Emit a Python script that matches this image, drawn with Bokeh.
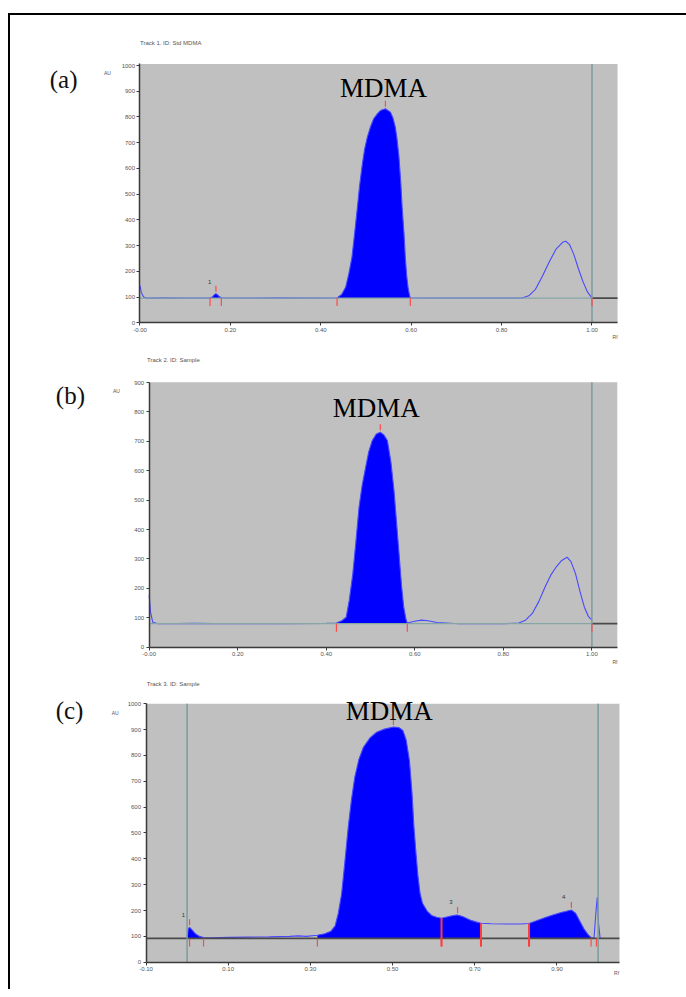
import numpy as np
from bokeh.plotting import figure
from bokeh.models import (Range1d, FixedTicker, Label, CustomJSTickFormatter, LinearAxis,
                          BoxAnnotation, Spacer)
from bokeh.layouts import column, row
from bokeh.embed import file_html
from bokeh.resources import INLINE

# ---------------- Panel (a): Track 1, Std MDMA ----------------
rf_a = [0.000, 0.003, 0.008, 0.015, 0.050, 0.100, 0.150, 0.155, 0.160, 0.165,
        0.168, 0.172, 0.176, 0.180, 0.250, 0.300, 0.400, 0.436,
        0.446, 0.455, 0.462, 0.469, 0.475, 0.481, 0.486, 0.492, 0.497, 0.503,
        0.510, 0.517, 0.525, 0.532, 0.543, 0.554, 0.560, 0.565, 0.569, 0.573,
        0.577, 0.580, 0.584, 0.587, 0.590, 0.593, 0.596, 0.598,
        0.650, 0.700, 0.800, 0.845, 0.860, 0.875, 0.890, 0.905, 0.920, 0.935,
        0.942, 0.950, 0.960, 0.970, 0.980, 0.990, 1.000]
au_a = [145, 118, 100, 96, 97, 96, 96, 97, 100, 110,
        113, 108, 101, 97, 96, 97, 96, 97,
        110, 138, 190, 255, 350, 449, 535, 618, 675, 722,
        762, 793, 812, 825, 832, 819, 795, 760, 710, 644,
        545, 449, 350, 255, 185, 138, 110, 97,
        96, 96, 96, 96, 105, 130, 180, 235, 285, 313,
        317, 305, 265, 210, 160, 120, 96]
base_a = 96
peaks_a = [(0.155, 0.180), (0.436, 0.598)]
apex_a = [0.168, 0.543]
bounds_a = [0.155, 0.180, 0.436, 0.598, 1.000]
drops_a = []
peak_names_a = [(0.154, 158, "1")]
xticks_a = [0.0, 0.2, 0.4, 0.6, 0.8, 1.0]
xlabels_a = ["-0.00", "0.20", "0.40", "0.60", "0.80", "1.00"]
yticks_a = [0, 100, 200, 300, 400, 500, 600, 700, 800, 900, 1000]

# ---------------- Panel (b): Track 2, Sample ----------------
rf_b = [0.000, 0.003, 0.008, 0.020, 0.100, 0.200, 0.300, 0.400, 0.423, 0.435,
        0.445, 0.452, 0.460, 0.467, 0.474, 0.481, 0.489, 0.496, 0.504, 0.513,
        0.522, 0.530, 0.538, 0.546, 0.553, 0.559, 0.565, 0.570, 0.575, 0.580,
        0.583, 0.600, 0.615, 0.630, 0.650, 0.700, 0.800, 0.835, 0.850, 0.865,
        0.880, 0.894, 0.907, 0.919, 0.932, 0.944, 0.953, 0.963, 0.973, 0.983,
        0.992, 1.000]
au_b = [176, 120, 85, 80, 81, 80, 80, 81, 82, 90,
        102, 160, 250, 360, 476, 550, 612, 665, 703, 725,
        731, 722, 703, 630, 533, 420, 306, 210, 136, 95,
        82, 88, 92, 90, 84, 80, 80, 82, 92, 114,
        155, 204, 245, 272, 295, 306, 290, 250, 190, 136,
        105, 92]
base_b = 80
peaks_b = [(0.423, 0.583)]
apex_b = [0.522]
bounds_b = [0.423, 0.583, 1.000]
drops_b = []
peak_names_b = []
xticks_b = [0.0, 0.2, 0.4, 0.6, 0.8, 1.0]
xlabels_b = ["-0.00", "0.20", "0.40", "0.60", "0.80", "1.00"]
yticks_b = [0, 100, 200, 300, 400, 500, 600, 700, 800, 900]

# ---------------- Panel (c): Track 3, Sample ----------------
rf_c = [0.000, 0.003, 0.006, 0.012, 0.020, 0.030, 0.040, 0.060, 0.100, 0.150,
        0.200, 0.250, 0.270, 0.290, 0.317, 0.335, 0.350, 0.360, 0.368, 0.376,
        0.384, 0.392, 0.400, 0.408, 0.418, 0.429, 0.445, 0.461, 0.480, 0.502,
        0.515, 0.525, 0.533, 0.541, 0.547, 0.552, 0.557, 0.562, 0.567, 0.573,
        0.584, 0.595, 0.607, 0.619, 0.632, 0.645, 0.658, 0.670, 0.690, 0.705,
        0.715, 0.740, 0.780, 0.810, 0.832, 0.850, 0.870, 0.890, 0.910, 0.925,
        0.935, 0.945, 0.955, 0.965, 0.975, 0.983, 0.990, 0.995, 0.998, 1.001,
        1.005]
au_c = [95, 130, 135, 125, 110, 100, 95, 94, 96, 97,
        98, 100, 102, 100, 104, 110, 120, 140, 190, 265,
        390, 522, 630, 716, 785, 832, 868, 890, 902, 910,
        908, 897, 860, 780, 660, 522, 420, 329, 265, 227,
        198, 181, 174, 170, 175, 180, 183, 177, 162, 155,
        151, 149, 148, 148, 150, 160, 172, 183, 192, 198,
        202, 190, 160, 130, 108, 95, 92, 200, 251, 150,
        92]
base_c = 92
peaks_c = [(0.000, 0.040), (0.317, 0.619), (0.619, 0.715), (0.832, 0.983)]
apex_c = [0.006, 0.502, 0.658, 0.935]
bounds_c = [0.006, 0.040, 0.317, 0.619, 0.715, 0.832, 0.983, 0.996]
drops_c = [0.619, 0.715, 0.832]
peak_names_c = [(-0.009, 181, "1"), (0.642, 232, "3"), (0.916, 251, "4")]
xticks_c = [-0.1, 0.1, 0.3, 0.5, 0.7, 0.9]
xlabels_c = ["-0.10", "0.10", "0.30", "0.50", "0.70", "0.90"]
yticks_c = [0, 100, 200, 300, 400, 500, 600, 700, 800, 900, 1000]

SERIF = "Liberation Serif"
SANS = "Liberation Sans"
FIG_W = 676


def tick_fmt(ticks, labels):
    return CustomJSTickFormatter(args=dict(t=ticks, l=labels), code="""
        for (let i = 0; i < t.length; i++) { if (Math.abs(t[i] - tick) < 1e-9) return l[i]; }
        return tick.toFixed(2);""")


def style_axis(ax):
    ax.axis_line_color = "#3a3a3a"
    ax.axis_line_width = 1.5
    ax.major_tick_line_color = "#3a3a3a"
    ax.major_tick_out = 3
    ax.major_tick_in = 0
    ax.minor_tick_line_color = None
    ax.major_label_text_font = SANS
    ax.major_label_text_font_size = "6px"
    ax.major_label_text_color = "#555555"
    ax.major_label_standoff = 2


def panel(rf, au, base, peaks, apexes, bounds, drops, names, xr, yr, gx, gy, xticks, xlabels,
          yticks, h, front_lines, base_light_end, track, track_xy, letter, letter_xy,
          au_xy, rf_xy, mdma_xy, px_val):
    p = figure(width=FIG_W, height=h, x_range=Range1d(*xr), y_range=Range1d(*yr),
               output_backend="svg", toolbar_location=None,
               x_axis_location=None, y_axis_location=None,
               min_border_left=30, min_border_right=0, min_border_top=0, min_border_bottom=14)
    p.background_fill_color = "white"
    p.border_fill_color = "white"
    p.outline_line_color = None
    p.grid.visible = False

    # gray plotting area
    p.add_layout(BoxAnnotation(left=gx[0], right=gx[1], bottom=gy[0], top=gy[1],
                               fill_color="#c0c0c0", fill_alpha=1.0, line_color=None,
                               level="underlay"))

    yax = LinearAxis(fixed_location=gx[0], bounds=gy, ticker=FixedTicker(ticks=yticks))
    xax = LinearAxis(fixed_location=gy[0], bounds=gx, ticker=FixedTicker(ticks=xticks),
                     formatter=tick_fmt(xticks, xlabels))
    style_axis(yax)
    style_axis(xax)
    p.add_layout(yax, "left")
    p.add_layout(xax, "below")

    rf = np.array(rf, dtype=float)
    au = np.array(au, dtype=float)

    # filled (integrated) peaks
    for s, e in peaks:
        m = (rf >= s - 1e-9) & (rf <= e + 1e-9)
        p.varea(x=rf[m], y1=np.full(m.sum(), base), y2=au[m], fill_color="#0000ff")

    # signal trace
    p.line(x=rf, y=au, line_color="#4848ff", line_width=1.1)

    # baseline
    if base_light_end is None:
        p.line(x=[gx[0], gx[1]], y=[base, base], line_color="#4a4a4a", line_width=1.6)
    else:
        p.line(x=[0, base_light_end], y=[base, base], line_color="#86a6a6", line_width=1.3)
        p.line(x=[base_light_end, gx[1]], y=[base, base], line_color="#4a4a4a", line_width=1.8)

    # front / start lines
    for fx in front_lines:
        p.segment(x0=[fx], y0=[gy[0]], x1=[fx], y1=[gy[1]], line_color="#7c9c9c", line_width=1.5)

    # integration marks
    tl = 8 * px_val
    for bx in bounds:
        p.segment(x0=[bx], y0=[base - tl], x1=[bx], y1=[base], line_color="#ff4a4a", line_width=1.2)
    for dx in drops:
        yv = float(np.interp(dx, rf, au))
        p.segment(x0=[dx], y0=[base - tl], x1=[dx], y1=[yv], line_color="#ff3a3a", line_width=2)
    for axx in apexes:
        yv = float(np.interp(axx, rf, au))
        p.segment(x0=[axx], y0=[yv + 2 * px_val], x1=[axx], y1=[yv + 8 * px_val],
                  line_color="#ff4a4a", line_width=1.2)

    for nx, ny, t in names:
        p.add_layout(Label(x=nx, y=ny, text=t, text_font=SANS, text_font_size="6px",
                           text_color="#333333", text_align="center", text_baseline="middle"))

    p.add_layout(Label(x=track_xy[0], y=track_xy[1], text=track, text_font=SANS,
                       text_font_size="6px", text_color="#555555", text_baseline="middle"))
    p.add_layout(Label(x=letter_xy[0], y=letter_xy[1], text=letter, text_font=SERIF,
                       text_font_size="25px", text_color="#111111", text_align="center",
                       text_baseline="middle"))
    p.add_layout(Label(x=au_xy[0], y=au_xy[1], text="AU", text_font=SANS, text_font_size="5px",
                       text_color="#555555", text_align="center", text_baseline="middle"))
    p.add_layout(Label(x=rf_xy[0], y=rf_xy[1], text="Rf", text_font=SANS, text_font_size="5px",
                       text_color="#555555", text_align="center", text_baseline="middle"))
    p.add_layout(Label(x=mdma_xy[0], y=mdma_xy[1], text="MDMA", text_font=SERIF,
                       text_font_size="27px", text_color="#000000", text_align="center",
                       text_baseline="middle"))
    return p


pa = panel(rf_a, au_a, base_a, peaks_a, apex_a, bounds_a, drops_a, peak_names_a,
           (-0.2201, 1.2091), (-68.8, 1194.5), (0.0, 1.0566), (0, 1006),
           xticks_a, xlabels_a, yticks_a,
           h=339, front_lines=[1.0], base_light_end=1.0,
           track="Track 1. ID: Std MDMA", track_xy=(0.0, 1086), letter="(a)", letter_xy=(-0.169, 946),
           au_xy=(-0.072, 970), rf_xy=(1.051, -57), mdma_xy=(0.539, 911), px_val=3.887)

pb = panel(rf_b, au_b, base_b, peaks_b, apex_b, bounds_b, drops_b, peak_names_b,
           (-0.2455, 1.2137), (-58.8, 995.2), (0.0, 1.0574), (0, 901),
           xticks_b, xlabels_b, yticks_b,
           h=324, front_lines=[1.0], base_light_end=1.0,
           track="Track 2. ID: Sample", track_xy=(-0.005, 977), letter="(b)", letter_xy=(-0.178, 856),
           au_xy=(-0.074, 870), rf_xy=(1.052, -50), mdma_xy=(0.513, 812), px_val=3.40)

pc = panel(rf_c, au_c, base_c, peaks_c, apex_c, bounds_c, drops_c, peak_names_c,
           (-0.3567, 1.2151), (-51.5, 1097.9), (-0.10, 1.052), (0, 1000),
           xticks_c, xlabels_c, yticks_c,
           h=311, front_lines=[0.0, 1.0], base_light_end=None,
           track="Track 3. ID: Sample", track_xy=(-0.098, 1078), letter="(c)", letter_xy=(-0.286, 974),
           au_xy=(-0.175, 966), rf_xy=(1.045, -40), mdma_xy=(0.492, 974), px_val=3.87)

inner = column(pa, pb, pc, styles={"border-left": "2px solid black", "border-top": "2px solid black"})
layout = column(Spacer(height=13, width=10), row(Spacer(width=8, height=10), inner))

open("out.html", "w").write(file_html(layout, INLINE))
